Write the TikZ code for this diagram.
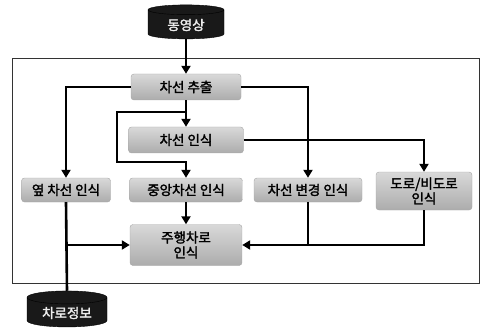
\documentclass[tikz,border=0pt]{standalone}
\usepackage{fontspec}
\newfontfamily\krfont{Noto Sans CJK KR}[FakeBold=2]
\usetikzlibrary{shapes.geometric,arrows.meta}
\tikzset{
  stepbox/.style={draw=gray!70, rounded corners=3pt, align=center, inner sep=1pt,
    top color=gray!30, bottom color=gray!65, font=\krfont\fontsize{13.5}{15}\selectfont},
  datacyl/.style={cylinder, shape border rotate=90, aspect=0.25, draw=black,
    fill=black!90, text=white!85!gray, inner sep=1pt, font=\krfont\fontsize{13.5}{15}\selectfont},
  flow/.style={line width=2.6pt},
}
\begin{document}
\begin{tikzpicture}[x=1pt, y=-1pt, node distance=50pt, >={Triangle[length=8pt,width=9pt]}]
        \useasboundingbox (0,0) rectangle (481,331);
        \draw[black!80, line width=0.9pt] (12,58) rectangle (479,283);
        \node[datacyl, minimum width=76pt, minimum height=34pt] (video) at (186,25) {동영상};
        \node[stepbox, below of=video, yshift=-12pt, minimum width=110pt, minimum height=26pt] (extract) {차선 추출};
        \node[stepbox, below of=extract, yshift=-3pt, minimum width=115pt, minimum height=26pt] (recog) {차선 인식};
        \node[stepbox, below of=recog, minimum width=113pt, minimum height=24pt] (center) {중앙차선 인식};
        \node[stepbox, left of=center, xshift=-70pt, minimum width=89pt, minimum height=24pt] (side) {옆 차선 인식};
        \node[stepbox, right of=center, xshift=72pt, minimum width=108pt, minimum height=24pt] (change) {차선 변경 인식};
        \node[stepbox, right of=change, xshift=66pt, yshift=-1pt, minimum width=96pt, minimum height=38pt] (road) {도로/비도로\\인식};
        \node[stepbox, below of=center, yshift=-5pt, minimum width=112pt, minimum height=41pt] (drive) {주행차로\\인식};
        \node[datacyl, below of=side, xshift=1pt, yshift=-73pt, minimum width=80pt, minimum height=36pt] (info) {차로정보};
        \coordinate (looptop) at (117,112);
        \coordinate (loopbot) at (117,162);
        \draw[flow, ->] (video) -- (extract);
        \draw[flow, ->] (extract.west) -| (side.north);
        \draw[flow, ->] (extract.east) -| (change.north);
        \draw[flow, ->] (extract) -- (recog);
        \draw[flow, ->] (extract.south |- looptop) -| (loopbot) -| (center.north);
        \draw[flow, ->] (recog.east) -| (road.north);
        \draw[flow, ->] (center) -- (drive);
        \draw[flow] (side.south) -- (info.north);
        \draw[flow, ->] (side.south |- drive.west) -- (drive.west);
        \draw[flow, ->] (change.south) |- (drive.east);
        \draw[flow] (road.south) |- (change.south |- drive.east);
    \end{tikzpicture}
\end{document}
